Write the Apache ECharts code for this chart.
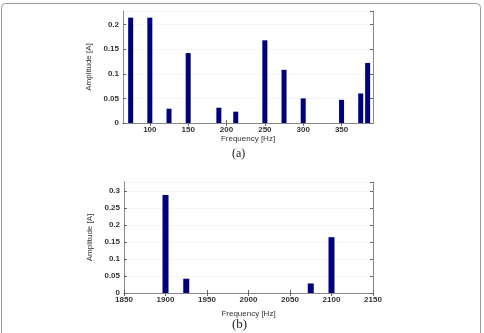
<!DOCTYPE html>
<html>
<head>
<meta charset="utf-8">
<script src="https://cdn.jsdelivr.net/npm/echarts@6/dist/echarts.min.js"></script>
<style>
  html, body { margin: 0; padding: 0; background: #fff; }
  #main { width: 484px; height: 333px; }
</style>
</head>
<body>
<div id="main"></div>
<script>
// (a) low frequency spectrum
var freqA = [75, 100, 125, 150, 190, 212, 250, 275, 300, 350, 375, 384];
var ampA = [0.214, 0.214, 0.029, 0.142, 0.031, 0.023, 0.168, 0.108, 0.050, 0.047, 0.060, 0.122];
var ticksXA = [100, 150, 200, 250, 300, 350];

// (b) high frequency spectrum
var freqB = [1900, 1925, 2075, 2100];
var ampB = [0.288, 0.042, 0.028, 0.164];

var barColor = '#00007f';
var txt = '#333';
var font = 'Liberation Sans, Arial, sans-serif';

var chart = echarts.init(document.getElementById('main'));

function pairs(xs, ys) {
    var out = [];
    for (var i = 0; i < xs.length; i++) {
        out.push([xs[i], ys[i]]);
    }
    return out;
}

// plain numbers, no thousands separator
function plain(v) { return String(+v.toFixed(2)); }

var tickStyle = { show: true, inside: true, length: 3, lineStyle: { color: '#666' } };
var boxLine = { show: true, lineStyle: { color: '#888', width: 1 } };
var lbl = { color: txt, fontSize: 8, fontFamily: font, fontWeight: 'bold', formatter: plain };
var grid = { show: true, lineStyle: { color: '#ececec', type: 'dotted' } };

chart.setOption({
    animation: false,
    grid: [
        { left: 123, right: 111, top: 11, height: 112, show: false },
        { left: 124, right: 111, top: 182, height: 111, show: false }
    ],
    xAxis: [
        {
            type: 'value', gridIndex: 0, min: 65, max: 391,
            axisLine: boxLine,
            axisTick: Object.assign({ customValues: ticksXA }, tickStyle),
            axisLabel: Object.assign({ customValues: ticksXA, margin: 3 }, lbl),
            splitLine: { show: false },
            name: 'Frequency [Hz]', nameLocation: 'middle', nameGap: 12,
            nameTextStyle: { color: txt, fontSize: 8, fontFamily: font }
        },
        {
            type: 'value', gridIndex: 0, min: 65, max: 391, position: 'top',
            axisLine: boxLine,
            axisTick: Object.assign({ customValues: ticksXA }, tickStyle),
            axisLabel: { show: false },
            splitLine: { show: false }
        },
        {
            type: 'value', gridIndex: 1, min: 1850, max: 2150, interval: 50,
            axisLine: boxLine, axisTick: tickStyle,
            axisLabel: Object.assign({ margin: 3 }, lbl),
            splitLine: { show: false },
            name: 'Frequency [Hz]', nameLocation: 'middle', nameGap: 17,
            nameTextStyle: { color: txt, fontSize: 8, fontFamily: font }
        },
        {
            type: 'value', gridIndex: 1, min: 1850, max: 2150, interval: 50, position: 'top',
            axisLine: boxLine, axisTick: tickStyle,
            axisLabel: { show: false }, splitLine: { show: false }
        }
    ],
    yAxis: [
        {
            type: 'value', gridIndex: 0, min: 0, max: 0.2275, interval: 0.05,
            axisLine: boxLine, axisTick: tickStyle,
            axisLabel: Object.assign({ margin: 4, showMaxLabel: false }, lbl),
            splitLine: grid,
            name: 'Amplitude [A]', nameLocation: 'middle', nameGap: 24,
            nameTextStyle: { color: txt, fontSize: 8, fontFamily: font }
        },
        {
            type: 'value', gridIndex: 0, min: 0, max: 0.2275, interval: 0.05, position: 'right',
            axisLine: boxLine, axisTick: tickStyle,
            axisLabel: { show: false }, splitLine: { show: false }
        },
        {
            type: 'value', gridIndex: 1, min: 0, max: 0.326, interval: 0.05,
            axisLine: boxLine, axisTick: tickStyle,
            axisLabel: Object.assign({ margin: 4, showMaxLabel: false }, lbl),
            splitLine: grid,
            name: 'Amplitude [A]', nameLocation: 'middle', nameGap: 24,
            nameTextStyle: { color: txt, fontSize: 8, fontFamily: font }
        },
        {
            type: 'value', gridIndex: 1, min: 0, max: 0.326, interval: 0.05, position: 'right',
            axisLine: boxLine, axisTick: tickStyle,
            axisLabel: { show: false }, splitLine: { show: false }
        }
    ],
    series: [
        {
            type: 'bar', xAxisIndex: 0, yAxisIndex: 0, barWidth: 5,
            itemStyle: { color: barColor },
            data: pairs(freqA, ampA)
        },
        {
            type: 'bar', xAxisIndex: 2, yAxisIndex: 2, barWidth: 6,
            itemStyle: { color: barColor },
            data: pairs(freqB, ampB)
        }
    ],
    graphic: [
        {
            type: 'rect', silent: true,
            shape: { x: 1.5, y: 3.5, width: 479, height: 345, r: 4 },
            style: { fill: null, stroke: '#9a9a9a', lineWidth: 1 }
        },
        {
            type: 'text', left: 232, top: 148,
            style: { text: '(a)', fill: '#222', fontSize: 12, fontFamily: 'Liberation Serif, Times New Roman, serif' }
        },
        {
            type: 'text', left: 232, top: 318,
            style: { text: '(b)', fill: '#222', fontSize: 13, fontFamily: 'Liberation Serif, Times New Roman, serif' }
        }
    ]
});
</script>
</body>
</html>
